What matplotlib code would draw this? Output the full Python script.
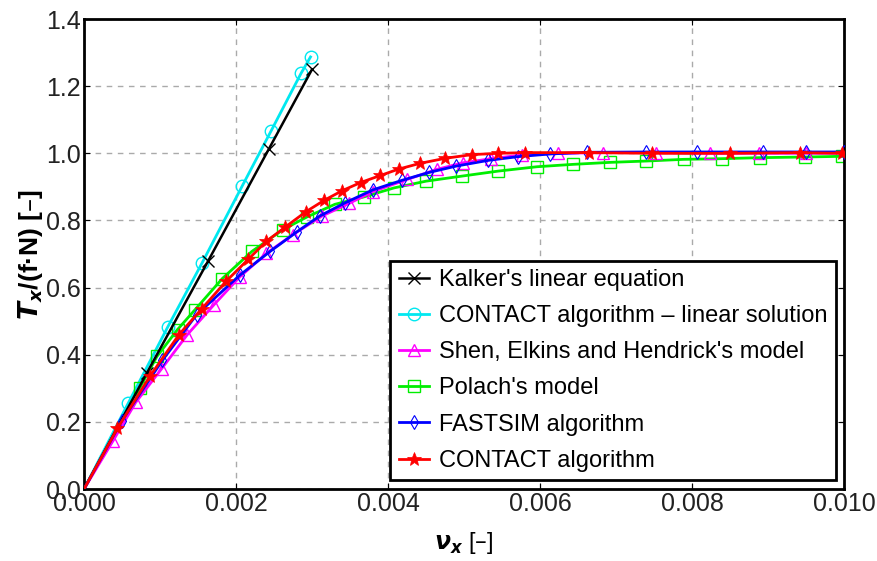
import numpy as np
import matplotlib.pyplot as plt

plt.rcParams['font.family'] = ['Liberation Sans', 'DejaVu Sans']
plt.rcParams['mathtext.fontset'] = 'dejavusans'

# Kalker's linear equation
kalker_x = [0, 0.000825, 0.00163, 0.00243, 0.003]
kalker_y = [0, 0.345, 0.678, 1.012, 1.25]

# CONTACT - linear solution
clin_x = [0, 0.00058, 0.0011, 0.00155, 0.00208, 0.00246, 0.002855, 0.00298]
clin_y = [0, 0.255, 0.482, 0.672, 0.902, 1.066, 1.238, 1.287]

# Shen, Elkins and Hendrick
shen_x = [0, 0.00038, 0.00068, 0.00102, 0.00136, 0.00171, 0.00205, 0.0024, 0.00275,
          0.00313, 0.00349, 0.0038, 0.00425, 0.00464, 0.00499, 0.00536, 0.00576,
          0.00624, 0.00683, 0.00753, 0.00823, 0.00888, 0.0095, 0.01]
shen_y = [0, 0.143, 0.258, 0.358, 0.46, 0.549, 0.632, 0.702, 0.758,
          0.813, 0.851, 0.886, 0.922, 0.952, 0.972, 0.984, 0.995,
          1.0, 1.002, 1.002, 1.0, 1.0, 1.0, 1.0]

# Polach
polach_x = [0, 0.00073, 0.00096, 0.00123, 0.00146, 0.00182, 0.00221, 0.00262, 0.00293,
            0.0033, 0.00368, 0.00408, 0.0045, 0.00497, 0.00545, 0.00596, 0.00643,
            0.00692, 0.0074, 0.00789, 0.00839, 0.00889, 0.00949, 0.00997]
polach_y = [0, 0.30, 0.395, 0.475, 0.534, 0.627, 0.708, 0.773, 0.81,
            0.848, 0.87, 0.897, 0.917, 0.932, 0.947, 0.96, 0.967,
            0.973, 0.977, 0.982, 0.984, 0.987, 0.989, 0.991]

# FASTSIM
fast_x = [0, 0.0005, 0.00103, 0.00148, 0.00205, 0.00245, 0.0028, 0.0031, 0.00343,
          0.0038, 0.00419, 0.00454, 0.0049, 0.00532, 0.00571, 0.00613, 0.00662,
          0.0074, 0.00806, 0.00893, 0.0095, 0.01]
fast_y = [0, 0.204, 0.383, 0.519, 0.637, 0.708, 0.766, 0.813, 0.852,
          0.891, 0.92, 0.943, 0.962, 0.979, 0.99, 0.998, 1.003,
          1.004, 1.004, 1.004, 1.004, 1.004]

# CONTACT
cont_x = [0, 0.00044, 0.00087, 0.00125, 0.00155, 0.00187, 0.00216, 0.0024, 0.00264,
          0.00292, 0.00316, 0.0034, 0.00364, 0.0039, 0.00414, 0.00442, 0.00475,
          0.0051, 0.00545, 0.0058, 0.00664, 0.00747, 0.0085, 0.00942, 0.00997]
cont_y = [0, 0.181, 0.337, 0.46, 0.537, 0.619, 0.684, 0.738, 0.779,
          0.826, 0.86, 0.889, 0.913, 0.934, 0.953, 0.97, 0.985,
          0.996, 1.0, 1.002, 1.002, 1.0, 1.0, 1.002, 1.0]

fig = plt.figure(figsize=(8.78, 5.61), dpi=100)
ax = fig.add_axes([0.0957, 0.1283, 0.8656, 0.8378])

lw = 2.0
ax.plot(kalker_x, kalker_y, color='black', lw=1.8, marker='x', ms=8, mew=1.0,
        markevery=slice(1, None), label="Kalker's linear equation", zorder=3)
ax.plot(clin_x, clin_y, color='#00e8f0', lw=lw, marker='o', ms=9, mfc='none', mew=1.0,
        markevery=slice(1, None), label="CONTACT algorithm \u2013 linear solution", zorder=2)
ax.plot(shen_x, shen_y, color='#ff00ff', lw=lw, marker='^', ms=9, mfc='none', mew=1.0,
        markevery=slice(1, -1), label="Shen, Elkins and Hendrick's model", zorder=3)
ax.plot(polach_x, polach_y, color='#00ee00', lw=lw, marker='s', ms=9, mfc='none', mew=1.0,
        markevery=slice(1, None), label="Polach's model", zorder=2)
ax.plot(fast_x, fast_y, color='#0000ff', lw=lw, marker='d', ms=7, mfc='none', mew=0.8,
        markevery=slice(1, None), label="FASTSIM algorithm", zorder=4)
ax.plot(cont_x, cont_y, color='#ff0000', lw=lw, marker='*', ms=10, mew=0.5,
        markevery=slice(1, None), label="CONTACT algorithm", zorder=5)

ax.set_xlim(0, 0.01)
ax.set_ylim(0, 1.4)
ax.set_xticks(np.arange(0, 0.0101, 0.002))
ax.set_yticks(np.arange(0, 1.41, 0.2))
ax.xaxis.set_major_formatter(plt.FormatStrFormatter('%.3f'))
ax.yaxis.set_major_formatter(plt.FormatStrFormatter('%.1f'))
ax.tick_params(direction='in', length=4, width=0.8, labelsize=18, labelcolor='#222222',
               top=True, right=True, pad=2)
ax.grid(True, ls=(0, (4, 4)), color='#aaaaaa', lw=1.0)
for s in ax.spines.values():
    s.set_linewidth(2.0)
    s.set_color('black')

ax.set_xlabel(r'$\mathbfit{\nu}_{\mathbfit{x}}$ ' + '[\u2013]', fontsize=17, labelpad=10)
ax.set_ylabel(r'$\mathbfit{T}_{\mathbfit{x}}$' + '/(f\u00b7N) [\u2013]', fontsize=19,
              fontweight='bold', labelpad=1)

leg = ax.legend(loc='lower right', bbox_to_anchor=(0.989, 0.019), borderaxespad=0,
                fontsize=17, fancybox=False, edgecolor='black', framealpha=1,
                handlelength=1.3, handletextpad=0.4, labelspacing=0.6, borderpad=0.35)
leg.get_frame().set_linewidth(2.0)

fig.savefig('out.png', dpi=100)
